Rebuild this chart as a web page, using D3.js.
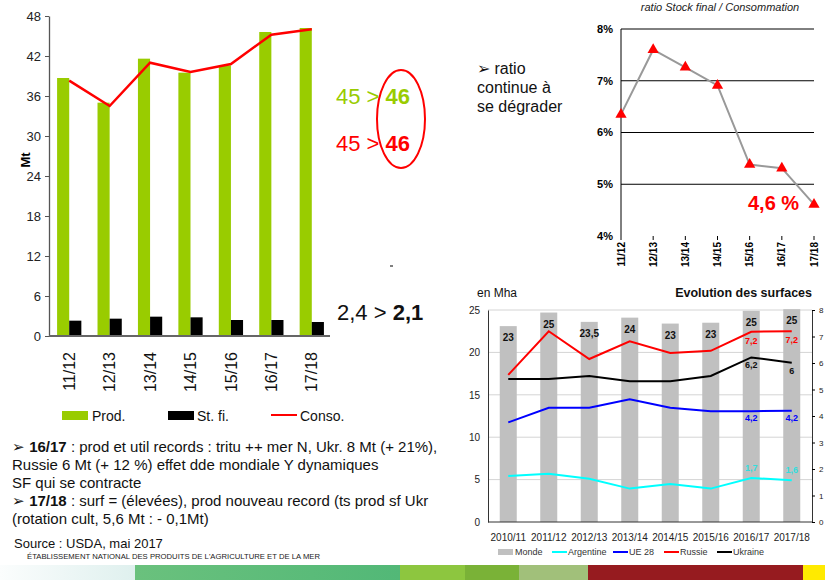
<!DOCTYPE html>
<html>
<head>
<meta charset="utf-8">
<script src="https://cdn.jsdelivr.net/npm/d3@7"></script>
<style>
  body { margin: 0; background: #fff; }
  svg { font-family: Arial, "Liberation Sans", sans-serif; }
</style>
</head>
<body>
<svg id="chart" width="825" height="580"></svg>
<script>
// --- bilan (Mt)
const seasons = ["11/12", "12/13", "13/14", "14/15", "15/16", "16/17", "17/18"];
const prod = [38.7, 35.0, 41.6, 39.5, 40.6, 45.6, 46.2];
const stockFinal = [2.3, 2.6, 2.9, 2.8, 2.4, 2.4, 2.1];
const conso = [38.3, 34.5, 41.0, 39.6, 40.8, 45.2, 46.0];
const mtTicks = [0, 6, 12, 18, 24, 30, 36, 42, 48];

// --- ratio stock final / consommation (%)
const ratio = [6.35, 7.6, 7.26, 6.91, 5.38, 5.31, 4.61];
const ratioTicks = [4, 5, 6, 7, 8];

// --- surfaces (Mha)
const years = ["2010/11", "2011/12", "2012/13", "2013/14", "2014/15", "2015/16", "2016/17", "2017/18"];
const monde = [23.1, 24.7, 23.6, 24.1, 23.4, 23.5, 24.9, 25.1];
const mondeLabels = ["23", "25", "23,5", "24", "23", "23", "25", "25"];
const argentine = [1.74, 1.82, 1.63, 1.26, 1.43, 1.26, 1.66, 1.58];
const ue28 = [3.76, 4.31, 4.31, 4.63, 4.31, 4.18, 4.18, 4.2];
const russie = [5.55, 7.2, 6.15, 6.82, 6.38, 6.46, 7.18, 7.2];
const ukraine = [5.4, 5.4, 5.51, 5.31, 5.31, 5.51, 6.21, 6.01];
const argentineLabels = [null, null, null, null, null, null, "1,7", "1,6"];
const ue28Labels = [null, null, null, null, null, null, "4,2", "4,2"];
const russieLabels = [null, null, null, null, null, null, "7,2", "7,2"];
const ukraineLabels = [null, null, null, null, null, null, "6,2", "6"];
const leftTicks = [0, 5, 10, 15, 20, 25];
const rightTicks = [0, 1, 2, 3, 4, 5, 6, 7, 8];

const svg = d3.select("#chart");
const GREEN = "#99cc00";

// ================= left chart =================
const x = d3.scaleBand().domain(seasons).range([49, 332]).paddingInner(0.4).paddingOuter(0.2);
const xSub = d3.scaleBand().domain(["prod", "stock"]).range([0, x.bandwidth()]);
const y = d3.scaleLinear().domain([0, 48]).range([336, 16]);

const left = svg.append("g");

left.selectAll(".prod").data(seasons).join("rect")
  .attr("x", d => x(d) + xSub("prod"))
  .attr("y", (d, i) => y(prod[i]))
  .attr("width", xSub.bandwidth())
  .attr("height", (d, i) => y(0) - y(prod[i]))
  .attr("fill", GREEN);

left.selectAll(".stock").data(seasons).join("rect")
  .attr("x", d => x(d) + xSub("stock"))
  .attr("y", (d, i) => y(stockFinal[i]))
  .attr("width", xSub.bandwidth())
  .attr("height", (d, i) => y(0) - y(stockFinal[i]))
  .attr("fill", "#000");

const consoLine = d3.line()
  .x((d, i) => x(seasons[i]) + x.bandwidth() / 2)
  .y(d => y(d));
left.append("path").datum(conso)
  .attr("d", consoLine)
  .attr("fill", "none")
  .attr("stroke", "#ff0000")
  .attr("stroke-width", 2.5);

const yAx = left.append("g")
  .attr("transform", "translate(49,0)")
  .call(d3.axisLeft(y).tickValues(mtTicks).tickSize(4).tickSizeOuter(0));
yAx.select(".domain").attr("stroke", "#555").attr("stroke-width", 1.3);
yAx.selectAll(".tick line").attr("stroke", "#555");
yAx.selectAll("text").attr("font-size", 13).attr("fill", "#222").attr("x", -8);

left.append("line")
  .attr("x1", 49).attr("x2", 330).attr("y1", y(0)).attr("y2", y(0))
  .attr("stroke", "#666").attr("stroke-width", 2);

left.selectAll(".xl").data(seasons).join("text")
  .attr("transform", d => `translate(${x(d) + x.bandwidth() / 2},352) rotate(-90)`)
  .attr("text-anchor", "end")
  .attr("dy", "0.35em")
  .attr("font-size", 16)
  .attr("fill", "#111")
  .text(d => d);

left.append("text")
  .attr("transform", "translate(30,160) rotate(-90)")
  .attr("text-anchor", "middle")
  .attr("font-size", 13).attr("font-weight", "bold")
  .text("Mt");

// legend
const lg = left.append("g").attr("font-size", 14).attr("fill", "#111");
lg.append("rect").attr("x", 62).attr("y", 411).attr("width", 26).attr("height", 9).attr("fill", GREEN);
lg.append("text").attr("x", 92).attr("y", 421).text("Prod.");
lg.append("rect").attr("x", 168).attr("y", 411).attr("width", 26).attr("height", 9).attr("fill", "#000");
lg.append("text").attr("x", 197).attr("y", 421).text("St. fi.");
lg.append("line").attr("x1", 271).attr("x2", 297).attr("y1", 415).attr("y2", 415)
  .attr("stroke", "#ff0000").attr("stroke-width", 2);
lg.append("text").attr("x", 300).attr("y", 421).text("Conso.");

// annotations
function compare(xp, yp, color, a, b) {
  const t = svg.append("text").attr("x", xp).attr("y", yp).attr("font-size", 22).attr("fill", color);
  t.append("tspan").text(a + " > ");
  t.append("tspan").attr("font-weight", "bold").text(b);
}
compare(336, 104, GREEN, "45", "46");
compare(336, 151, "#ff0000", "45", "46");
compare(337, 320, "#111", "2,4", "2,1");
svg.append("ellipse").attr("cx", 401).attr("cy", 119).attr("rx", 24).attr("ry", 49)
  .attr("fill", "none").attr("stroke", "#ff0000").attr("stroke-width", 2);
svg.append("line").attr("x1", 390).attr("x2", 393).attr("y1", 266).attr("y2", 266).attr("stroke", "#000");

// ================= ratio chart =================
const xr = d3.scalePoint().domain(seasons).range([621, 814]);
const yr = d3.scaleLinear().domain([4, 8]).range([236, 29]);
const rg = svg.append("g");

rg.selectAll(".grid").data(ratioTicks.slice(1)).join("line")
  .attr("x1", 621).attr("x2", 814)
  .attr("y1", d => yr(d)).attr("y2", d => yr(d))
  .attr("stroke", "#000").attr("stroke-width", 1);
rg.append("line").attr("x1", 621).attr("x2", 621).attr("y1", yr(8)).attr("y2", yr(4))
  .attr("stroke", "#000");
rg.selectAll(".xt").data(seasons).join("line")
  .attr("x1", d => xr(d)).attr("x2", d => xr(d))
  .attr("y1", yr(4)).attr("y2", yr(4) + 4)
  .attr("stroke", "#000");
rg.selectAll(".yl").data(ratioTicks).join("text")
  .attr("x", 613).attr("y", d => yr(d)).attr("dy", "0.35em")
  .attr("text-anchor", "end").attr("font-size", 11).attr("font-weight", "bold")
  .text(d => d + "%");
rg.selectAll(".xl").data(seasons).join("text")
  .attr("transform", d => `translate(${xr(d)},242) rotate(-90)`)
  .attr("text-anchor", "end").attr("dy", "0.35em")
  .attr("font-size", 10).attr("font-weight", "bold")
  .text(d => d);

rg.append("path").datum(ratio)
  .attr("d", d3.line().x((d, i) => xr(seasons[i])).y(d => yr(d)))
  .attr("fill", "none").attr("stroke", "#999").attr("stroke-width", 2);
rg.selectAll(".mk").data(ratio).join("path")
  .attr("transform", (d, i) => `translate(${xr(seasons[i])},${yr(d)})`)
  .attr("d", d3.symbol(d3.symbolTriangle, 55))
  .attr("fill", "#ff0000");

rg.append("text").attr("x", 720).attr("y", 11).attr("text-anchor", "middle")
  .attr("font-size", 11).attr("font-style", "italic").attr("fill", "#222")
  .text("ratio Stock final / Consommation");
rg.append("text").attr("x", 748).attr("y", 210)
  .attr("font-size", 20).attr("font-weight", "bold").attr("fill", "#ff0000")
  .text("4,6 %");

const rt = svg.append("text").attr("font-size", 16).attr("fill", "#111");
["➢ ratio", "continue à", "se dégrader"].forEach((s, i) => {
  rt.append("tspan").attr("x", 477).attr("y", 74 + i * 19).text(s);
});

// ================= surfaces chart =================
const xs = d3.scaleBand().domain(years).range([488, 812]).paddingInner(0.58).paddingOuter(0.29);
const yl = d3.scaleLinear().domain([0, 25]).range([522, 310]);
const yR = d3.scaleLinear().domain([0, 8]).range([522, 310]);
const sg = svg.append("g");

sg.selectAll(".grid").data(leftTicks.slice(1)).join("line")
  .attr("x1", 488).attr("x2", 812)
  .attr("y1", d => yl(d)).attr("y2", d => yl(d))
  .attr("stroke", "#d4d4d4").attr("stroke-width", 1);

sg.selectAll(".bar").data(years).join("rect")
  .attr("x", d => xs(d))
  .attr("y", (d, i) => yl(monde[i]))
  .attr("width", xs.bandwidth())
  .attr("height", (d, i) => yl(0) - yl(monde[i]))
  .attr("fill", "#c0c0c0");
sg.selectAll(".bl").data(years).join("text")
  .attr("x", d => xs(d) + xs.bandwidth() / 2)
  .attr("y", (d, i) => yl(monde[i]) + 15)
  .attr("text-anchor", "middle").attr("font-size", 10).attr("font-weight", "bold").attr("fill", "#111")
  .text((d, i) => mondeLabels[i]);

const sx = (d, i) => xs(years[i]) + xs.bandwidth() / 2;
const series = [
  { vals: argentine, labels: argentineLabels, color: "#00ffff", label: "#33dddd", dy: -7 },
  { vals: ue28, labels: ue28Labels, color: "#0000ff", label: "#0000ff", dy: 10 },
  { vals: ukraine, labels: ukraineLabels, color: "#000", label: "#111", dy: 11 },
  { vals: russie, labels: russieLabels, color: "#ff0000", label: "#ff0000", dy: 12 }
];
series.forEach(s => {
  sg.append("path").datum(s.vals)
    .attr("d", d3.line().x(sx).y(d => yR(d)))
    .attr("fill", "none").attr("stroke", s.color).attr("stroke-width", 2);
  sg.selectAll(null).data(s.vals).join("text")
    .attr("x", sx).attr("y", d => yR(d) + s.dy)
    .attr("text-anchor", "middle").attr("font-size", 9).attr("font-weight", "bold")
    .attr("fill", s.label)
    .text((d, i) => s.labels[i] || "");
});

const la = sg.append("g").attr("transform", "translate(488,0)")
  .call(d3.axisLeft(yl).tickValues(leftTicks).tickSize(0).tickSizeOuter(0));
la.select(".domain").attr("stroke", "#333");
la.selectAll("text").attr("font-size", 10).attr("fill", "#222").attr("x", -8);

const ra = sg.append("g").attr("transform", "translate(812,0)")
  .call(d3.axisRight(yR).tickValues(rightTicks).tickSize(3).tickSizeOuter(0));
ra.select(".domain").attr("stroke", "#333");
ra.selectAll("text").attr("font-size", 8).attr("fill", "#222").attr("x", 7);

sg.append("line").attr("x1", 488).attr("x2", 812).attr("y1", 522).attr("y2", 522)
  .attr("stroke", "#333");
sg.selectAll(".xl").data(years).join("text")
  .attr("x", d => xs(d) + xs.bandwidth() / 2).attr("y", 541)
  .attr("text-anchor", "middle").attr("font-size", 10).attr("fill", "#222")
  .text(d => d);

sg.append("text").attr("x", 477).attr("y", 297).attr("font-size", 12).attr("fill", "#111").text("en Mha");
sg.append("text").attr("x", 812).attr("y", 297).attr("text-anchor", "end")
  .attr("font-size", 12.5).attr("font-weight", "bold").attr("fill", "#111")
  .text("Evolution des surfaces");

// legend
const sl = sg.append("g").attr("font-size", 9).attr("fill", "#333");
sl.append("rect").attr("x", 498).attr("y", 549).attr("width", 15).attr("height", 6).attr("fill", "#c0c0c0");
sl.append("text").attr("x", 515).attr("y", 555).text("Monde");
[["Argentine", "#00ffff", 552], ["UE 28", "#0000ff", 613], ["Russie", "#ff0000", 664], ["Ukraine", "#000", 717]]
  .forEach(([name, c, lx]) => {
    sl.append("line").attr("x1", lx).attr("x2", lx + 15).attr("y1", 552).attr("y2", 552)
      .attr("stroke", c).attr("stroke-width", 2);
    sl.append("text").attr("x", lx + 16).attr("y", 555).text(name);
  });

// ================= texts bottom left =================
const bt = svg.append("g").attr("font-size", 15).attr("fill", "#111");
const lines = [
  [["➢ ", false], ["16/17", true], [" : prod et util records : tritu ++ mer N, Ukr. 8 Mt (+ 21%),", false]],
  [["Russie 6 Mt (+ 12 %) effet dde mondiale Y dynamiques", false]],
  [["SF qui se contracte", false]],
  [["➢ ", false], ["17/18", true], [" : surf = (élevées), prod nouveau record (ts prod sf Ukr", false]],
  [["(rotation cult, 5,6 Mt : - 0,1Mt)", false]]
];
lines.forEach((parts, i) => {
  const t = bt.append("text").attr("x", 12).attr("y", 452 + i * 17.9);
  parts.forEach(([s, b]) => t.append("tspan").attr("font-weight", b ? "bold" : null).text(s));
});
svg.append("text").attr("x", 14).attr("y", 548).attr("font-size", 13).attr("fill", "#111")
  .text("Source : USDA, mai 2017");
svg.append("text").attr("x", 27).attr("y", 559).attr("font-size", 8).attr("fill", "#222")
  .attr("textLength", 293).attr("lengthAdjust", "spacingAndGlyphs")
  .text("ÉTABLISSEMENT NATIONAL DES PRODUITS DE L'AGRICULTURE ET DE LA MER");

// ================= footer band =================
const defs = svg.append("defs");
const g1 = defs.append("linearGradient").attr("id", "fade");
g1.append("stop").attr("offset", "0").attr("stop-color", "#fbfdfd");
g1.append("stop").attr("offset", "1").attr("stop-color", "#dff0ee");
const g2 = defs.append("linearGradient").attr("id", "green");
g2.append("stop").attr("offset", "0").attr("stop-color", "#6ac17d");
g2.append("stop").attr("offset", "1").attr("stop-color", "#52b877");
const band = [
  [0, 135, "url(#fade)"], [135, 400, "url(#green)"], [400, 465, "#8dc63f"],
  [465, 519, "#7ab237"], [519, 588, "#a1c07a"], [588, 803, "#961b1f"], [803, 825, "#ffea00"]
];
svg.selectAll(".band").data(band).join("rect")
  .attr("x", d => d[0]).attr("y", 565).attr("width", d => d[1] - d[0]).attr("height", 15)
  .attr("fill", d => d[2]);
</script>
</body>
</html>
